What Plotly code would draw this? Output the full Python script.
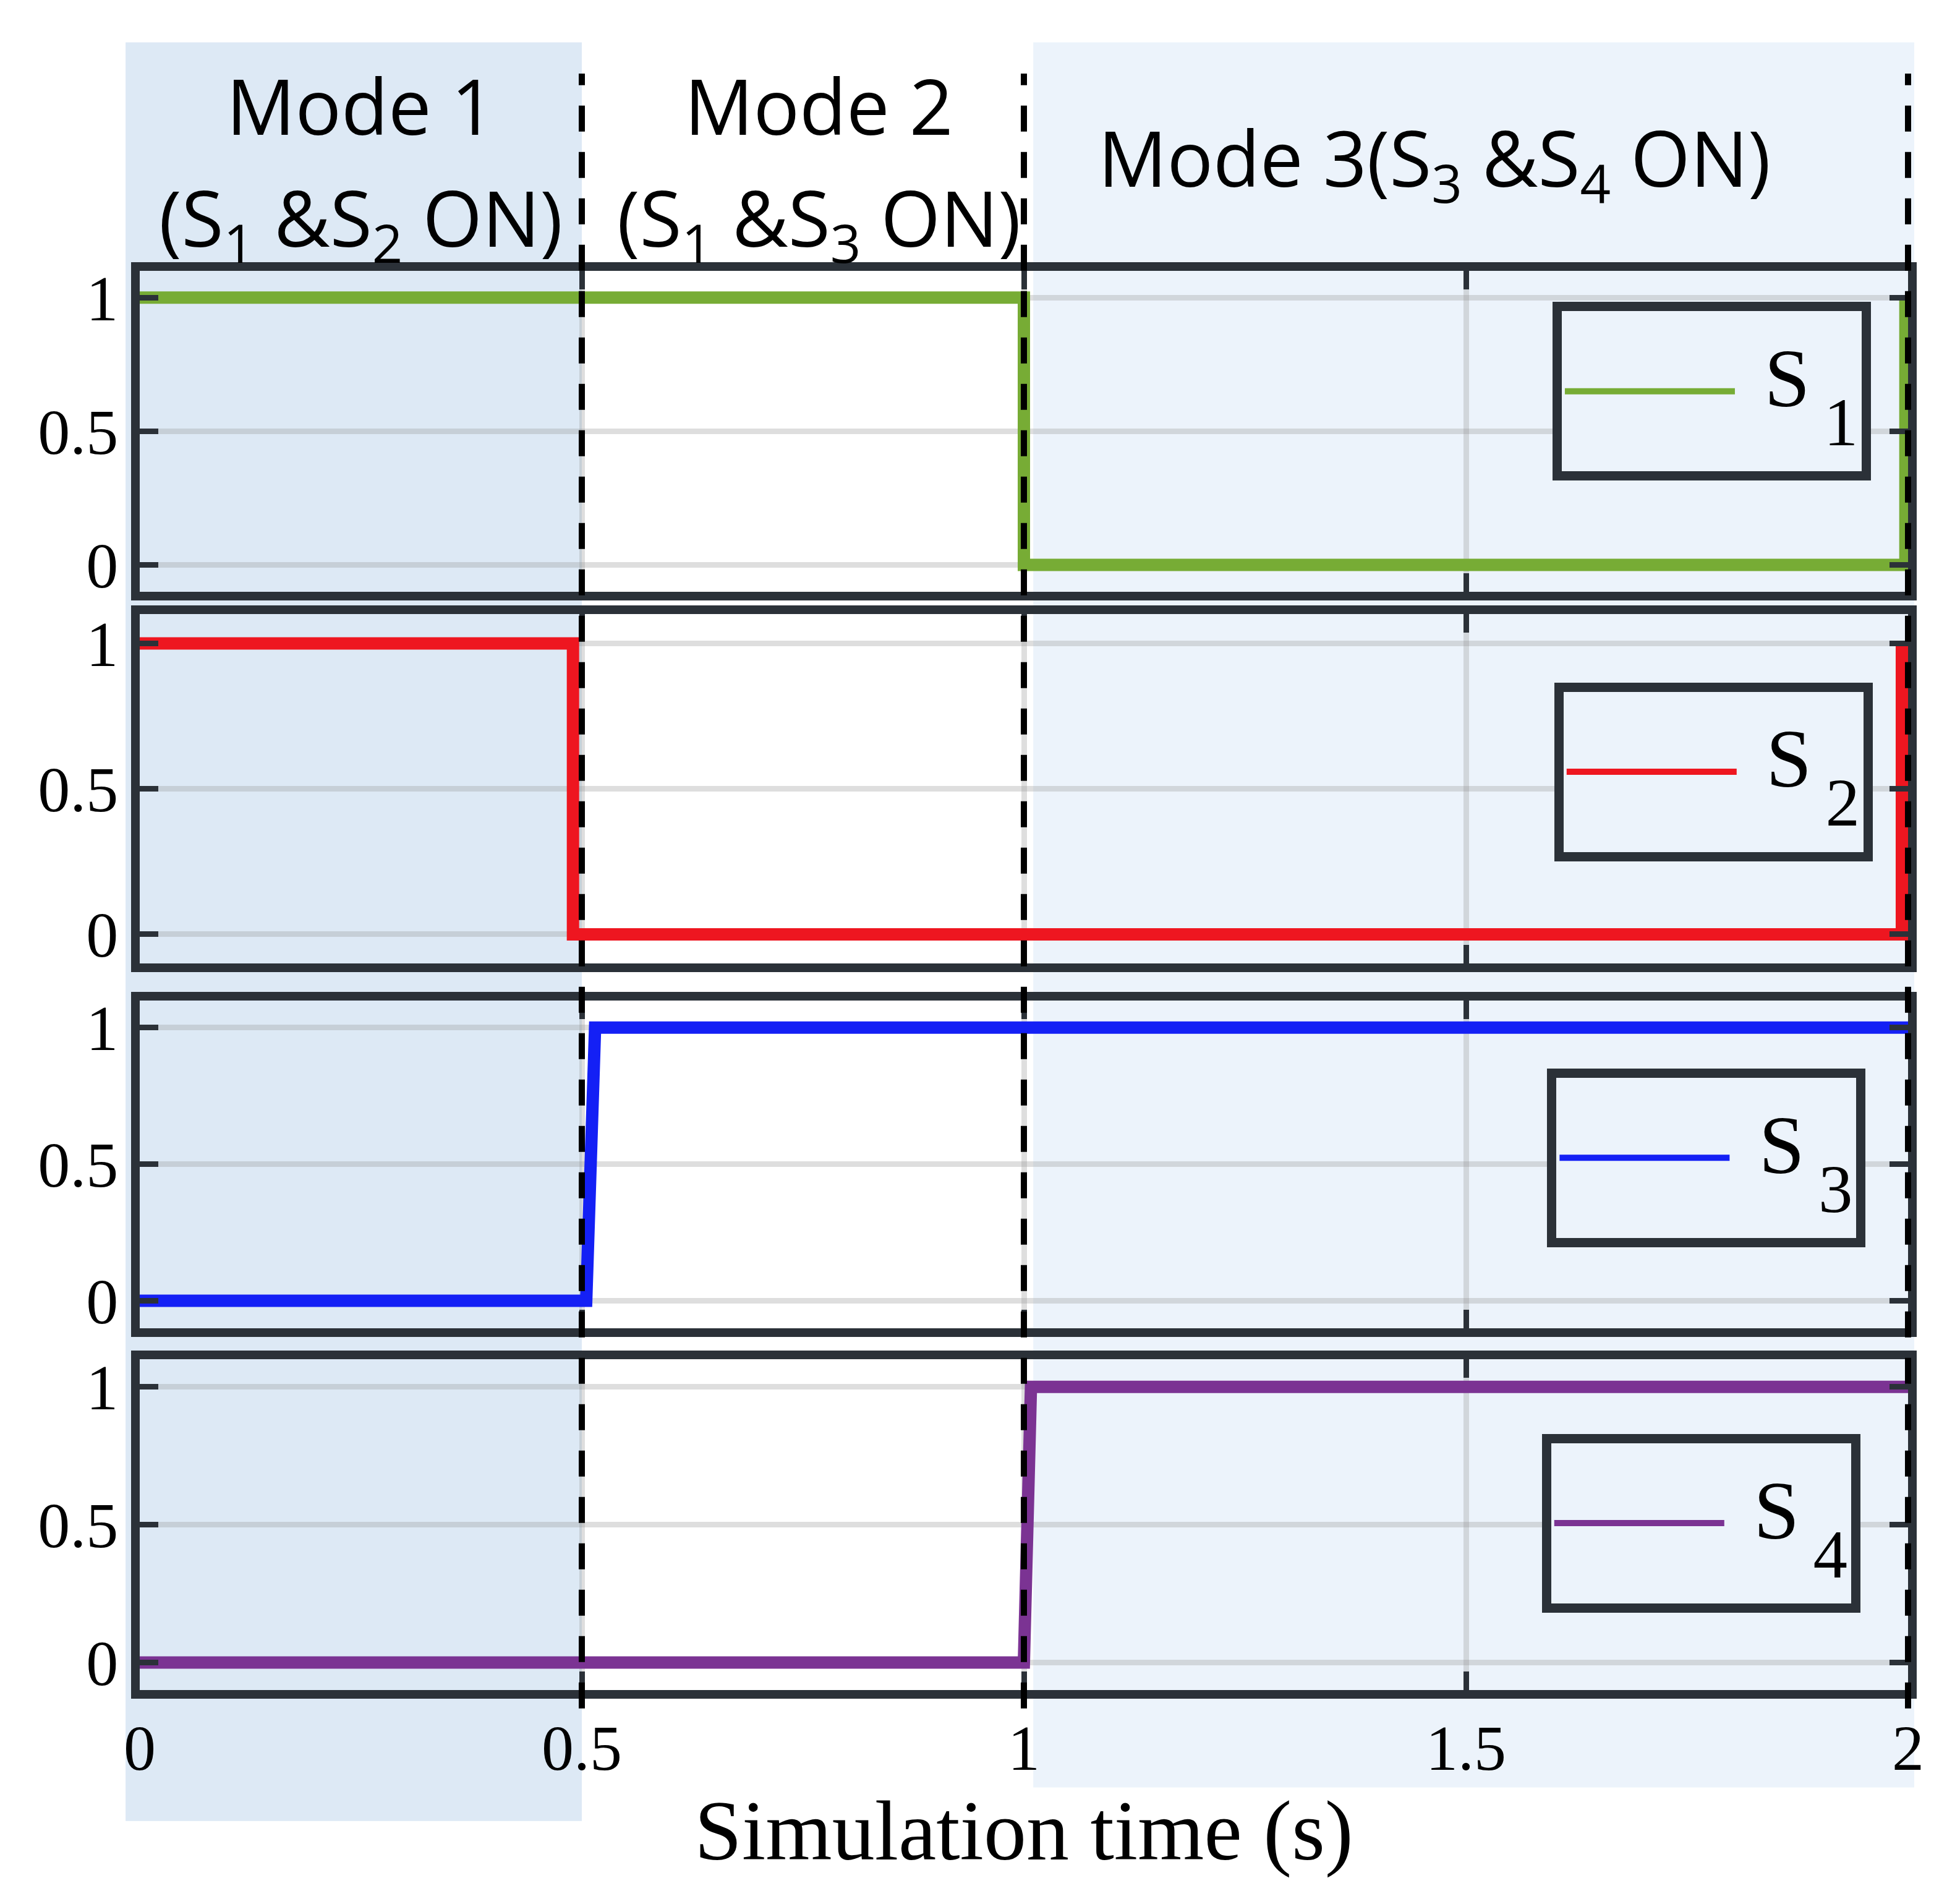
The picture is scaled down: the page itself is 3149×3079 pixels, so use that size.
import plotly.graph_objects as go
from plotly.subplots import make_subplots

# ---- data ----
names = ["S", "S", "S", "S"]
subs = ["1", "2", "3", "4"]
colors = ["#77ac35", "#ee1620", "#1420f5", "#7b3393"]
t_s1 = [0.0, 1.0, 1.0, 1.997, 1.997]
v_s1 = [1, 1, 0, 0, 1]
t_s2 = [0.0, 0.49, 0.49, 1.993, 1.993]
v_s2 = [1, 1, 0, 0, 1]
t_s3 = [0.0, 0.505, 0.515, 2.0]
v_s3 = [0, 0, 1, 1]
t_s4 = [0.0, 1.0, 1.008, 2.0]
v_s4 = [0, 0, 1, 1]
series_t = [t_s1, t_s2, t_s3, t_s4]
series_v = [v_s1, v_s2, v_s3, v_s4]
x_ticks = [0, 0.5, 1, 1.5, 2]
x_ticklabels = ["0", "0.5", "1", "1.5", "2"]
y_ticks = [0, 0.5, 1]
y_ticklabels = ["0", "0.5", "1"]
mode_bounds = [0.5, 1.0, 2.0]
x_min, x_max = 0, 2

W, H = 3149, 3079
fig = make_subplots(rows=4, cols=1, shared_xaxes=True)

domains = [[0.774, 1.0], [0.512, 0.758], [0.255, 0.486], [0.0, 0.233]]
legend_pos = [(0.979, 0.978), (0.980, 0.710), (0.976, 0.438), (0.973, 0.1805)]
frame = "#2b3138"
grid = "rgba(150,150,150,0.31)"
nb = "\u00a0"


def legend_label(base, sub):
    # three-line label so the box gets the reference height; symbol text on the middle line
    return (nb + "<br>"
            + f"<span style='font-size:170px'>{nb}</span>"
            + f"<span style='font-size:133px'>{base}</span>"
            + f"<span style='font-size:300px'><sub><span style='font-size:111px'>\u2009{sub}</span></sub></span>"
            + "<br>" + nb)


for i in range(4):
    leg = "legend" if i == 0 else f"legend{i+1}"
    fig.add_trace(go.Scatter(x=series_t[i], y=series_v[i], mode="lines",
                             name=legend_label(names[i], subs[i]),
                             line=dict(color=colors[i], width=20), legend=leg,
                             showlegend=True), row=i + 1, col=1)

tickfont = dict(family="Liberation Serif", size=104, color="black")
for i in range(4):
    xa = "xaxis" if i == 0 else f"xaxis{i+1}"
    ya = "yaxis" if i == 0 else f"yaxis{i+1}"
    fig.layout[xa].update(range=[x_min, x_max], tickvals=x_ticks, ticktext=x_ticklabels,
                          showticklabels=(i == 3), showline=True, mirror="ticks",
                          linecolor=frame, linewidth=14, ticks="inside", ticklen=30,
                          tickwidth=9, tickcolor=frame, showgrid=True, gridcolor=grid,
                          gridwidth=9, zeroline=False, tickfont=tickfont)
    fig.layout[ya].update(domain=domains[i], range=[-0.1, 1.1], tickvals=y_ticks,
                          ticktext=y_ticklabels, showline=True, mirror="ticks",
                          linecolor=frame, linewidth=14, ticks="inside", ticklen=30,
                          tickwidth=9, tickcolor=frame, showgrid=True, gridcolor=grid,
                          gridwidth=9, zeroline=False, tickfont=tickfont)

fig.layout.xaxis4.update(ticklabelstandoff=-10,
                         title=dict(text="Simulation time (s)", standoff=22,
                                    font=dict(family="Liberation Serif", size=138, color="black")))


def px(xv):
    return (xv - x_min) / (x_max - x_min)


# background mode regions
fig.add_shape(type="rect", xref="paper", yref="paper", x0=px(-0.016), x1=px(0.5), y0=-0.0923, y1=1.161,
              fillcolor="#dde9f5", line_width=0, layer="below")
fig.add_shape(type="rect", xref="paper", yref="paper", x0=px(1.0106), x1=px(2.007), y0=-0.0686, y1=1.161,
              fillcolor="#ecf3fb", line_width=0, layer="below")

# dashed mode boundaries
for xb in mode_bounds:
    fig.add_shape(type="line", xref="paper", yref="paper", x0=px(xb), x1=px(xb), y0=-0.013, y1=1.139,
                  line=dict(color="black", width=10, dash="42px,33px"), layer="above")

# mode annotations
tfont = dict(family="Open Sans", size=124, color="black")
common = dict(xref="x", yref="paper", showarrow=False, font=tfont, xanchor="center", yanchor="middle")
fig.add_annotation(text="Mode 1", x=0.25, y=1.117, **common)
fig.add_annotation(text="(S<sub>1</sub> &S<sub>2</sub> ON)", x=0.25, y=1.035, **common)
fig.add_annotation(text="Mode 2", x=0.768, y=1.117, **common)
fig.add_annotation(text="(S<sub>1</sub> &S<sub>3</sub> ON)", x=0.768, y=1.035, **common)
fig.add_annotation(text="Mode 3(S<sub>3</sub> &S<sub>4</sub> ON)", x=1.464, y=1.077, **common)

legends = {}
for i in range(4):
    key = "legend" if i == 0 else f"legend{i+1}"
    legends[key] = dict(x=legend_pos[i][0], y=legend_pos[i][1], xanchor="right", yanchor="top",
                        bgcolor="#ecf3fb", bordercolor=frame, borderwidth=15, itemwidth=275,
                        font=dict(family="Liberation Serif", size=63, color="black"))

fig.update_layout(width=W, height=H, margin=dict(l=218, r=71, t=430, b=354),
                  paper_bgcolor="white", plot_bgcolor="rgba(0,0,0,0)", **legends)

fig.write_html("out.html")
